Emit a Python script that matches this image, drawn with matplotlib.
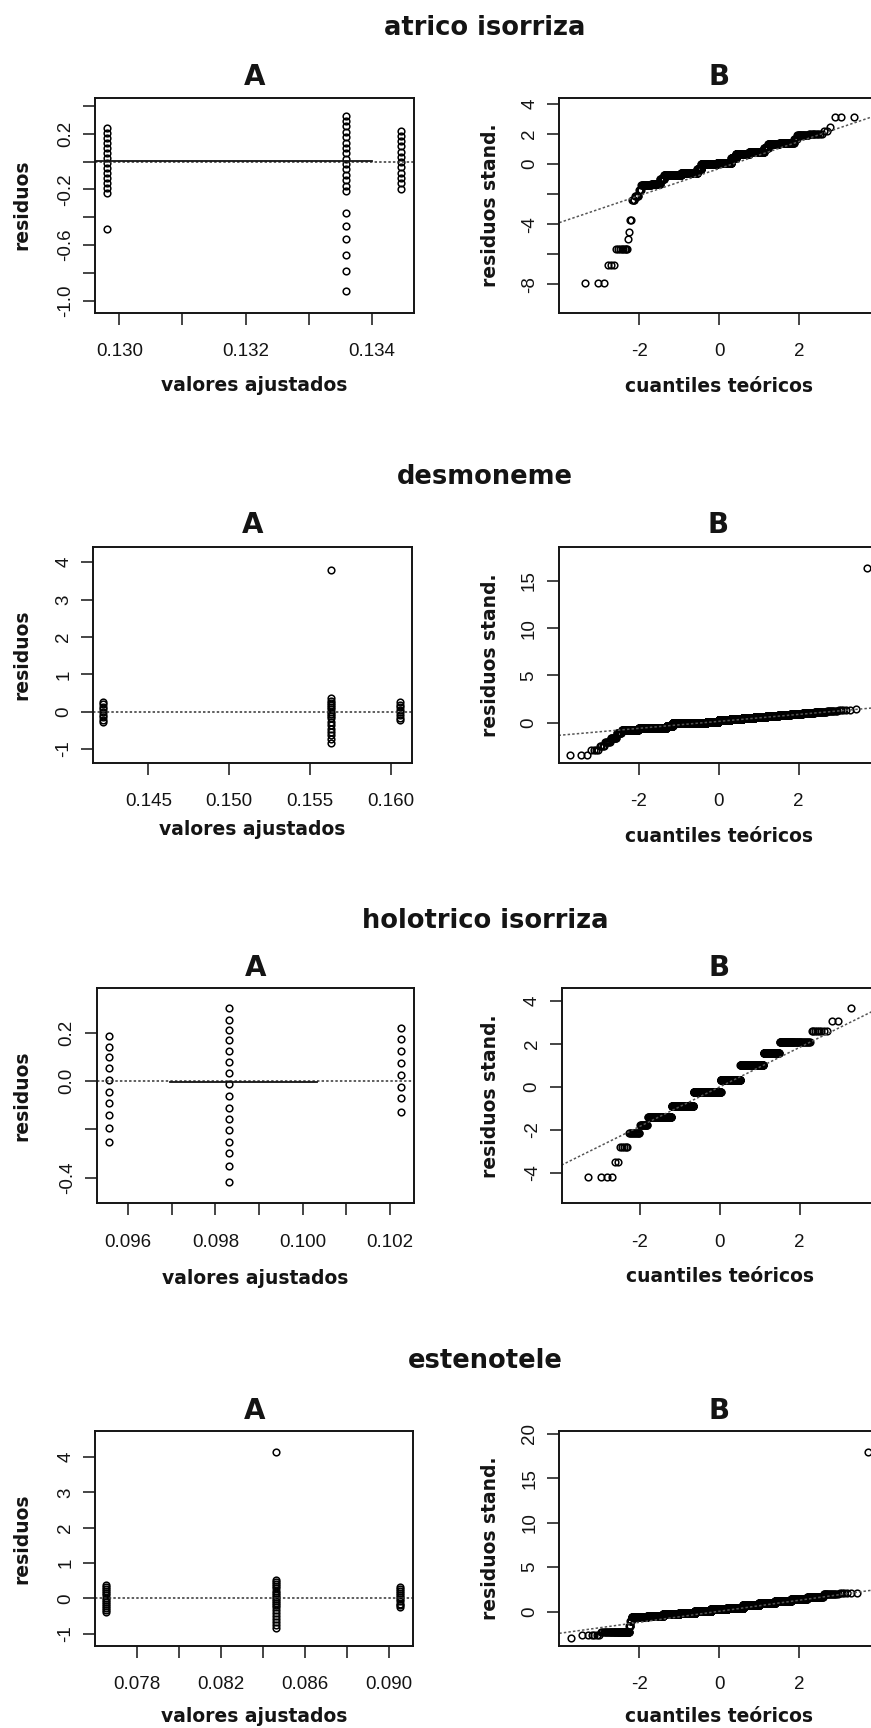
import numpy as np
import matplotlib
matplotlib.use("Agg")
import matplotlib.pyplot as plt
from statistics import NormalDist

plt.rcParams["font.family"] = ["Liberation Sans", "DejaVu Sans"]
plt.rcParams["axes.unicode_minus"] = False

# ---------------- data ----------------
species = ["atrico isorriza", "desmoneme", "holotrico isorriza", "estenotele"]

# A: residuals against fitted values (three fitted levels per species)
fitted_atrico = [0.12981, 0.13360, 0.13446]
resid_atrico_1 = [0.243, 0.207, 0.171, 0.135, 0.099, 0.063, 0.027, -0.009,
                  -0.045, -0.081, -0.117, -0.153, -0.189, -0.225, -0.482]
resid_atrico_2 = [0.331, 0.292, 0.253, 0.215, 0.176, 0.137, 0.098, 0.060,
                  0.021, -0.018, -0.056, -0.095, -0.134, -0.173, -0.211,
                  -0.367, -0.463, -0.558, -0.671, -0.786, -0.928]
resid_atrico_3 = [0.221, 0.184, 0.147, 0.110, 0.072, 0.036, 0.000, -0.036,
                  -0.079, -0.119, -0.155, -0.196]
smooth_atrico_x = [0.12962, 0.13400]
smooth_atrico_y = [0.005, 0.005]

fitted_desmo = [0.14222, 0.15628, 0.16053]
resid_desmo_1 = [0.27, 0.20, 0.13, 0.06, -0.01, -0.08, -0.15, -0.22, -0.27]
resid_desmo_2 = [0.36, 0.30, 0.24, 0.18, 0.12, 0.06, 0.00, -0.06, -0.12, -0.18,
                 -0.27, -0.36, -0.45, -0.54, -0.63, -0.72, -0.83, 3.78]
resid_desmo_3 = [0.26, 0.19, 0.12, 0.05, -0.02, -0.09, -0.16, -0.21]

fitted_holo = [0.095556, 0.09832, 0.10225]
resid_holo_1 = [0.187, 0.142, 0.101, 0.052, 0.004, -0.044, -0.092, -0.141,
                -0.196, -0.254]
resid_holo_2 = [0.303, 0.252, 0.211, 0.170, 0.125, 0.080, 0.034, -0.012,
                -0.062, -0.110, -0.158, -0.203, -0.251, -0.299, -0.352, -0.417]
resid_holo_3 = [0.218, 0.172, 0.125, 0.076, 0.025, -0.024, -0.072, -0.130]
smooth_holo_x = [0.09697, 0.10032]
smooth_holo_y = [-0.003, -0.003]

fitted_esteno = [0.07651, 0.08461, 0.09051]
resid_esteno_1 = [0.38, 0.32, 0.26, 0.20, 0.14, 0.08, 0.02, -0.04, -0.10,
                  -0.16, -0.22, -0.28, -0.34, -0.38]
resid_esteno_2 = [0.52, 0.46, 0.40, 0.34, 0.28, 0.22, 0.16, 0.10, 0.04, -0.02,
                  -0.08, -0.14, -0.20, -0.26, -0.33, -0.42, -0.50, -0.58,
                  -0.66, -0.75, -0.85, 4.15]
resid_esteno_3 = [0.33, 0.27, 0.21, 0.15, 0.09, 0.03, -0.03, -0.09, -0.15,
                  -0.20, -0.24]

# B: sorted standardized residuals, stored as value levels with frequencies
std_levels_atrico = [-7.90, -6.73, -5.65, -5.00, -4.55, -3.75, -2.40, -2.15,
                     -1.70, -1.40, -1.30, -1.00, -0.72, -0.62, -0.35, -0.02,
                     0.08, 0.40, 0.68, 0.78, 1.05, 1.33, 1.43, 1.65, 1.90,
                     2.00, 2.20, 2.47, 3.10]
std_counts_atrico = [3, 3, 8, 1, 1, 2, 4, 6, 4, 25, 32, 18, 112, 154, 45, 196,
                     177, 57, 142, 122, 26, 56, 47, 6, 17, 10, 2, 1, 3]
qqline_atrico = (-0.30, 0.90)   # intercept, slope

std_levels_desmo = [-3.45, -3.40, -2.90, -2.50, -2.10, -1.60, -1.15, -0.80,
                    -0.62, -0.35, -0.10, 0.10, 0.31, 0.41, 0.51, 0.61, 0.71,
                    0.81, 0.90, 1.00, 1.10, 1.20, 1.30, 1.40, 16.40]
std_counts_desmo = [1, 2, 4, 4, 6, 10, 11, 76, 370, 142, 1284, 590, 590, 539,
                    451, 345, 241, 154, 91, 48, 24, 10, 5, 1, 1]
qqline_desmo = (0.12, 0.37)

std_levels_holo = [-4.17, -3.47, -2.78, -2.15, -1.77, -1.38, -0.88, -0.22,
                   0.33, 1.00, 1.57, 2.10, 2.62, 3.08, 3.66]
std_counts_holo = [4, 2, 5, 12, 13, 79, 143, 254, 187, 165, 69, 56, 8, 2, 1]
qqline_holo = (0.00, 0.92)

std_levels_esteno = [-2.97, -2.60, -2.23, -1.60, -1.00, -0.60, -0.45, -0.30,
                     -0.12, 0.05, 0.25, 0.45, 0.70, 0.95, 1.20, 1.45, 1.70,
                     1.95, 2.15, 17.90]
std_counts_esteno = [1, 6, 54, 4, 5, 110, 224, 390, 577, 733, 792, 733, 578,
                     389, 224, 110, 47, 16, 6, 1]
qqline_esteno = (0.05, 0.62)

# axis ranges and tick labels
a_xlim = [(0.129615, 0.134675), (0.1416, 0.16126), (0.095275, 0.102556), (0.075984, 0.091144)]
a_ylim = [(-1.086, 0.46), (-1.364, 4.40), (-0.506, 0.383), (-1.343, 4.74)]
a_xticks = [[0.130, 0.131, 0.132, 0.133, 0.134],
            [0.145, 0.150, 0.155, 0.160],
            [0.096, 0.097, 0.098, 0.099, 0.100, 0.101, 0.102],
            [0.078, 0.080, 0.082, 0.084, 0.086, 0.088, 0.090]]
a_xticklabels = [["0.130", "", "0.132", "", "0.134"],
                 ["0.145", "0.150", "0.155", "0.160"],
                 ["0.096", "", "0.098", "", "0.100", "", "0.102"],
                 ["0.078", "", "0.082", "", "0.086", "", "0.090"]]
a_yticks = [[-1.0, -0.8, -0.6, -0.4, -0.2, 0.0, 0.2, 0.4],
            [-1, 0, 1, 2, 3, 4],
            [-0.4, -0.2, 0.0, 0.2],
            [-1, 0, 1, 2, 3, 4]]
a_yticklabels = [["-1.0", "", "-0.6", "", "-0.2", "", "0.2", ""],
                 ["-1", "0", "1", "2", "3", "4"],
                 ["-0.4", "", "0.0", "0.2"],
                 ["-1", "0", "1", "2", "3", "4"]]
b_xlim = [(-4.0, 4.0), (-4.0, 4.0), (-3.95, 3.95), (-4.0, 4.0)]
b_ylim = [(-9.89, 4.41), (-4.26, 18.58), (-5.41, 4.59), (-3.82, 20.3)]
b_xticks = [-2, 0, 2]
b_yticks = [[-8, -6, -4, -2, 0, 2, 4], [0, 5, 10, 15], [-4, -2, 0, 2, 4], [0, 5, 10, 15, 20]]
b_yticklabels = [["-8", "", "-4", "", "0", "2", "4"],
                 ["0", "5", "10", "15"],
                 ["-4", "-2", "0", "2", "4"],
                 ["0", "5", "10", "15", "20"]]

fitted_all = [fitted_atrico, fitted_desmo, fitted_holo, fitted_esteno]
resid_all = [[resid_atrico_1, resid_atrico_2, resid_atrico_3],
             [resid_desmo_1, resid_desmo_2, resid_desmo_3],
             [resid_holo_1, resid_holo_2, resid_holo_3],
             [resid_esteno_1, resid_esteno_2, resid_esteno_3]]
smooth_all = [(smooth_atrico_x, smooth_atrico_y), None, (smooth_holo_x, smooth_holo_y), None]
std_levels_all = [std_levels_atrico, std_levels_desmo, std_levels_holo, std_levels_esteno]
std_counts_all = [std_counts_atrico, std_counts_desmo, std_counts_holo, std_counts_esteno]
qqline_all = [qqline_atrico, qqline_desmo, qqline_holo, qqline_esteno]

# ---------------- layout (pixels) ----------------
W, H = 871, 1728
rows = [
    dict(sup=26.7, title=75, top=97.7, bot=312.7, a=(95.0, 414.3), b=(559.3, 879.3), xlab_a=386.0, xlab_b=386.7),
    dict(sup=475, title=523, top=547.3, bot=762.7, a=(93.3, 411.5), b=(558.5, 878.5), xlab_a=830.0, xlab_b=836.7),
    dict(sup=920, title=966, top=988.3, bot=1203.3, a=(96.5, 414.3), b=(561.5, 877.5), xlab_a=1279.0, xlab_b=1277.0),
    dict(sup=1359, title=1409, top=1431, bot=1645.7, a=(95.0, 413.3), b=(559.3, 879.3), xlab_a=1716.7, xlab_b=1716.7),
]

INK = "#141414"
BOLD = dict(family="DejaVu Sans", weight="bold", color=INK)

fig = plt.figure(figsize=(W / 100, H / 100), dpi=100)
fig.patch.set_facecolor("white")


def add_axes_px(left, top, right, bottom):
    return fig.add_axes([left / W, 1 - bottom / H, (right - left) / W, (bottom - top) / H])


def style(ax):
    for s in ax.spines.values():
        s.set_linewidth(1.4)
        s.set_color(INK)
    ax.tick_params(direction="out", length=8.6, width=1.1, color=INK,
                   labelcolor=INK, top=False, right=False, labelsize=13.5)
    ax.tick_params(axis="x", pad=13.5)
    ax.tick_params(axis="y", pad=6.4)


def labels(ax, row, left, right, xlabel, ylabel, xlab_y, ylab_off):
    h = row["bot"] - row["top"]
    w = right - left
    ax.set_xlabel(xlabel, fontsize=13.5, va="baseline", **BOLD)
    ax.xaxis.set_label_coords(0.5, -(xlab_y + 5 - row["bot"]) / h)
    ax.set_ylabel(ylabel, fontsize=13.5, va="center", **BOLD)
    ax.yaxis.set_label_coords(-ylab_off / w, 0.5)


circle = dict(linestyle="none", marker="o", markersize=4.8, markerfacecolor="none",
              markeredgecolor="black", markeredgewidth=1.1)
dotted = dict(linestyle=(0, (1.6, 1.4)), linewidth=1.1)

for i, row in enumerate(rows):
    fig.text(485 / W, 1 - (row["sup"] + 8.5) / H, species[i], ha="center",
             va="baseline", fontsize=18.5, **BOLD)

    # ---- A: residuals vs fitted ----
    la, ra = row["a"]
    axa = add_axes_px(la, row["top"], ra, row["bot"])
    for fv, res in zip(fitted_all[i], resid_all[i]):
        axa.plot(np.full(len(res), fv), res, **circle)
    axa.axhline(0, color="#333333", **dotted)
    if smooth_all[i] is not None:
        sx, sy = smooth_all[i]
        axa.plot(sx, sy, color=INK, linewidth=1.3)
    axa.set_xlim(*a_xlim[i])
    axa.set_ylim(*a_ylim[i])
    axa.set_xticks(a_xticks[i], a_xticklabels[i])
    axa.set_yticks(a_yticks[i], a_yticklabels[i], rotation=90, va="center")
    style(axa)
    labels(axa, row, la, ra, "valores ajustados", "residuos", row["xlab_a"], la - 22)
    fig.text((la + ra) / 2 / W, 1 - (row["title"] + 10) / H, "A", ha="center",
             va="baseline", fontsize=20, **BOLD)

    # ---- B: normal Q-Q plot of standardized residuals ----
    lb, rb = row["b"]
    axb = add_axes_px(lb, row["top"], rb, row["bot"])
    sample = np.repeat(std_levels_all[i], std_counts_all[i])
    n = len(sample)
    nd = NormalDist()
    theo = np.array([nd.inv_cdf((k - 0.5) / n) for k in range(1, n + 1)])
    axb.plot(theo, sample, **circle)
    a0, b1 = qqline_all[i]
    xl = np.array(b_xlim[i])
    axb.plot(xl, a0 + b1 * xl, color="#555555", **dotted)
    axb.set_xlim(*b_xlim[i])
    axb.set_ylim(*b_ylim[i])
    axb.set_xticks(b_xticks, [str(t) for t in b_xticks])
    axb.set_yticks(b_yticks[i], b_yticklabels[i], rotation=90, va="center")
    style(axb)
    labels(axb, row, lb, rb, "cuantiles teóricos", "residuos stand.", row["xlab_b"], lb - 490)
    fig.text((lb + rb) / 2 / W, 1 - (row["title"] + 10) / H, "B", ha="center",
             va="baseline", fontsize=20, **BOLD)

fig.savefig("out.png", dpi=100, facecolor="white")
